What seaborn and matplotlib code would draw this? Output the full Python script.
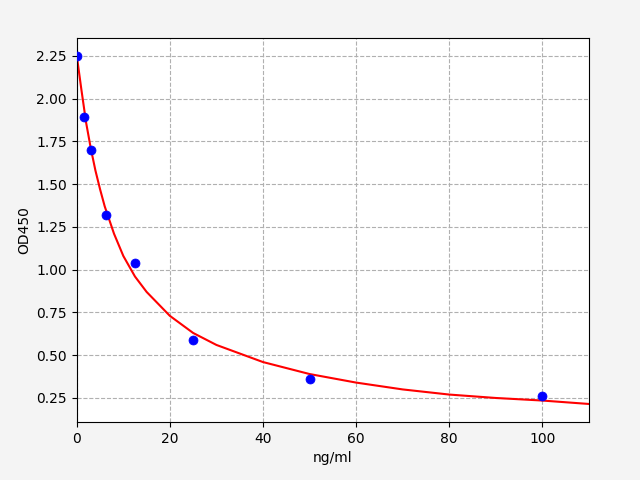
import matplotlib
matplotlib.use("Agg")
import matplotlib.pyplot as plt
import seaborn as sns

conc = [0, 1.56, 3.125, 6.25, 12.5, 25, 50, 100]
od = [2.25, 1.89, 1.70, 1.32, 1.04, 0.59, 0.36, 0.26]
curve_x = [0, 1, 2, 3, 4, 5, 6, 8, 10, 12.5, 15, 20, 25, 30, 40, 50, 60, 70, 80, 90, 100, 110]
curve_y = [2.25, 2.05, 1.86, 1.71, 1.58, 1.47, 1.37, 1.21, 1.08, 0.96, 0.87, 0.73,
           0.63, 0.56, 0.46, 0.39, 0.34, 0.30, 0.27, 0.25, 0.235, 0.215]

fig, ax = plt.subplots(figsize=(6.4, 4.8), dpi=100)
fig.subplots_adjust(left=0.12, right=0.92, top=0.921, bottom=0.121)
fig.patch.set_facecolor("#f4f4f4")
sns.lineplot(x=curve_x, y=curve_y, color="red", ax=ax, zorder=2)
sns.scatterplot(x=conc, y=od, color="blue", s=42, edgecolor="blue", ax=ax, zorder=3)
ax.set_xlim(0, 110)
ax.set_ylim(0.11, 2.355)
ax.set_yticks([0.25, 0.5, 0.75, 1.0, 1.25, 1.5, 1.75, 2.0, 2.25])
ax.grid(True, linestyle="--", color="#b0b0b0")
ax.set_axisbelow(True)
ax.set_xlabel("ng/ml")
ax.set_ylabel("OD450")
fig.savefig("out.png", dpi=100)
